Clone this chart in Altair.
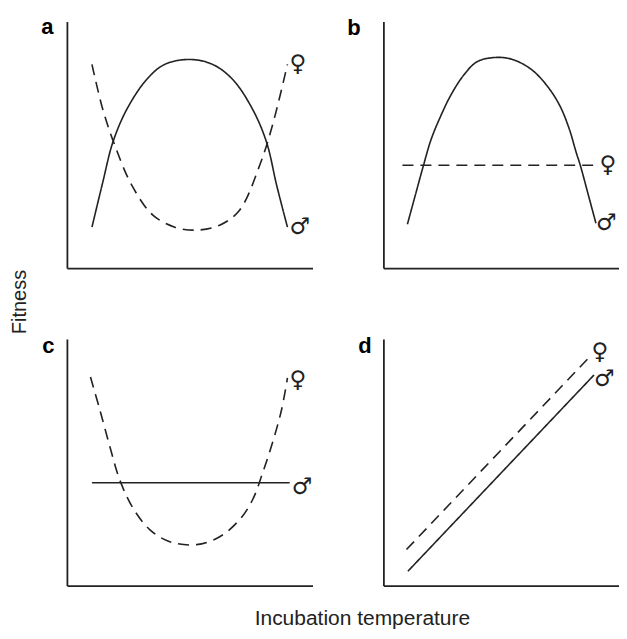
import altair as alt
import pandas as pd

FEMALE = "♀"
MALE = "♂"
panel_letters = ["a", "b", "c", "d"]
y_title = "Fitness"
x_title = "Incubation temperature"

# Panel a (x: temperature units, y: fitness units 0-100)
a_male_x = [10.2, 14.6, 18.7, 24.4, 32.5, 39.8, 50.0, 59.3, 67.5, 75.6, 81.3, 85.4, 89.8]
a_male_y = [16.6, 34.8, 51.0, 64.4, 76.5, 82.6, 84.6, 82.6, 76.5, 64.4, 51.0, 33.6, 16.6]
a_female_x = [10.2, 14.6, 19.5, 26.4, 35.0, 43.9, 52.8, 62.2, 70.3, 78.5, 83.7, 89.8]
a_female_y = [82.6, 64.4, 49.8, 33.6, 21.5, 16.6, 15.4, 17.4, 23.5, 41.7, 57.9, 82.6]

# Panel b
b_male_x = [10.2, 13.5, 17.0, 20.3, 24.4, 28.5, 33.9, 39.8, 47.4, 54.5, 62.6, 69.4, 74.8, 78.9, 81.8, 83.6, 87.0, 90.2]
b_male_y = [17.8, 29.4, 41.6, 52.3, 61.8, 69.9, 78.0, 83.7, 85.4, 84.7, 80.7, 74.0, 66.0, 56.4, 47.0, 41.6, 29.6, 18.2]
b_female_x = [8.1, 91.7]
b_female_y = [41.7, 41.7]

# Panel c
c_male_x = [10.2, 90.7]
c_male_y = [41.7, 41.7]
c_female_x = [9.6, 13.4, 17.5, 21.5, 26.8, 33.7, 41.9, 52.8, 62.2, 70.3, 75.6, 79.7, 83.7, 87.4, 89.8]
c_female_y = [84.6, 71.3, 56.3, 42.9, 31.6, 22.7, 17.8, 16.6, 19.8, 26.7, 34.8, 45.7, 57.9, 71.3, 84.2]

# Panel d
d_male_x = [10.4, 89.4]
d_male_y = [5.8, 85.4]
d_female_x = [9.8, 88.3]
d_female_y = [14.6, 93.5]

INK = "#222222"
W1, W2, H = 246, 236, 247
X1_MAX, X2_MAX = 100.0, 100.0
SYM_SIZE = 23


def make_df(mx, my, fx, fy):
    rows = []
    for i, (x, y) in enumerate(zip(fx, fy)):
        rows.append({"x": x, "y": y, "sex": "female", "i": i})
    for i, (x, y) in enumerate(zip(mx, my)):
        rows.append({"x": x, "y": y, "sex": "male", "i": i})
    return pd.DataFrame(rows)


def end_df(mx, my, fx, fy):
    return pd.DataFrame([
        {"x": fx[-1], "y": fy[-1], "sym": FEMALE, "sex": "female"},
        {"x": mx[-1], "y": my[-1], "sym": MALE, "sex": "male"},
    ])


axis = alt.Axis(labels=False, ticks=False, grid=False, domain=True,
                domainColor=INK, domainWidth=1.8, title=None)


def panel(letter, series, width, xmax, letter_pos, f_dy=0, m_dy=0, dx=2, extra=None):
    mx, my, fx, fy = series
    df = make_df(mx, my, fx, fy)
    ends = end_df(mx, my, fx, fy)
    xs = alt.X("x:Q", scale=alt.Scale(domain=[0, xmax], nice=False, zero=False), axis=axis)
    ys = alt.Y("y:Q", scale=alt.Scale(domain=[0, 100], nice=False, zero=False), axis=axis)
    lines = alt.Chart(df).mark_line(interpolate="catmull-rom", color=INK, strokeWidth=1.6).encode(
        x=xs, y=ys,
        strokeDash=alt.StrokeDash("sex:N", scale=alt.Scale(domain=["female", "male"],
                                                           range=[[11, 7], [1, 0]]), legend=None),
        order="i:Q",
    )
    sym_f = alt.Chart(ends).transform_filter(alt.datum.sex == "female").mark_text(
        align="left", baseline="middle", dx=dx, dy=f_dy, font="DejaVu Sans", fontSize=SYM_SIZE, color=INK
    ).encode(x="x:Q", y="y:Q", text="sym:N")
    sym_m = alt.Chart(ends).transform_filter(alt.datum.sex == "male").mark_text(
        align="left", baseline="middle", dx=dx, dy=m_dy, font="DejaVu Sans", fontSize=SYM_SIZE, color=INK
    ).encode(x="x:Q", y="y:Q", text="sym:N")
    lab = alt.Chart(pd.DataFrame({"t": [letter]})).mark_text(
        align="center", baseline="alphabetic", font="Liberation Sans", fontWeight="bold",
        fontSize=22, color="black"
    ).encode(text="t:N", x=alt.value(letter_pos[0]), y=alt.value(letter_pos[1]))
    layers = [lines, sym_f, sym_m, lab]
    if extra is not None:
        layers.append(extra)
    return alt.layer(*layers).properties(width=width, height=H)


fit_lab = alt.Chart(pd.DataFrame({"t": [y_title]})).mark_text(
    angle=270, align="center", baseline="middle", font="Liberation Sans", fontSize=20, color=INK
).encode(text="t:N", x=alt.value(-47), y=alt.value(281))

inc_lab = alt.Chart(pd.DataFrame({"t": [x_title]})).mark_text(
    align="center", baseline="alphabetic", font="Liberation Sans", fontSize=21, color=INK
).encode(text="t:N", x=alt.value(296), y=alt.value(287))

pa = panel(panel_letters[0], (a_male_x, a_male_y, a_female_x, a_female_y), W1, X1_MAX,
           (-19.5, 13), 0, 0, 2, fit_lab)
pb = panel(panel_letters[1], (b_male_x, b_male_y, b_female_x, b_female_y), W2, X2_MAX,
           (-29.5, 14), 0, 0, 0)
pc = panel(panel_letters[2], (c_male_x, c_male_y, c_female_x, c_female_y), W1, X1_MAX,
           (-18.5, 14), 2, 4, 2, inc_lab)
pd_ = panel(panel_letters[3], (d_male_x, d_male_y, d_female_x, d_female_y), W2, X2_MAX,
            (-18.5, 14), -3, 4, 0)

chart = alt.concat(pa, pb, pc, pd_, columns=2, spacing=71, bounds="flush").configure_view(
    stroke=None
).properties(
    padding={"left": 2, "top": 8, "right": 0, "bottom": 0},
    background="white",
)

chart.save("out.html", embed_options={"renderer": "svg", "actions": False})
